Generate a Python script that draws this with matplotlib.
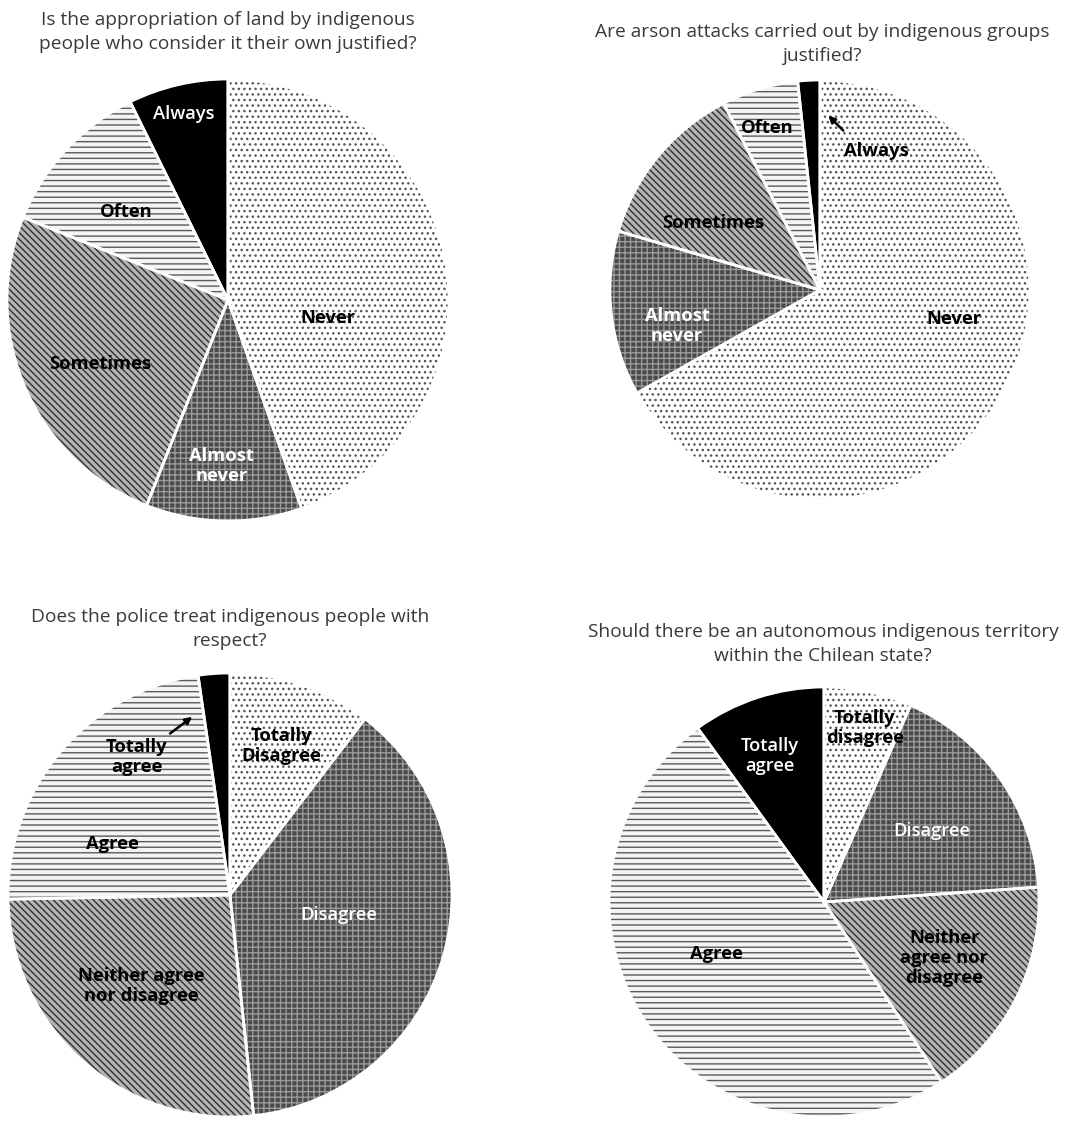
import matplotlib
matplotlib.use("Agg")
import matplotlib.pyplot as plt

plt.rcParams['font.family'] = ['Open Sans', 'DejaVu Sans']
plt.rcParams['hatch.linewidth'] = 1.0

# ---------------- data ----------------
titles = [
    "Is the appropriation of land by indigenous\npeople who consider it their own justified?",
    "Are arson attacks carried out by indigenous groups\njustified?",
    "Does the police treat indigenous people with\nrespect?",
    "Should there be an autonomous indigenous territory\nwithin the Chilean state?",
]

cats_freq = ["Never", "Almost\nnever", "Sometimes", "Often", "Always"]
land_values = [44.6, 11.4, 25.1, 11.6, 7.3]
arson_values = [66.9, 12.7, 12.9, 5.9, 1.7]

cats_police = ["Totally\nDisagree", "Disagree", "Neither agree\nnor disagree", "Agree", "Totally\nagree"]
police_values = [10.4, 37.9, 26.4, 23.0, 2.3]

cats_auto = ["Totally\ndisagree", "Disagree", "Neither\nagree nor\ndisagree", "Agree", "Totally\nagree"]
auto_values = [6.6, 17.3, 16.9, 49.2, 10.0]

# ---------------- styles ----------------
face_colors = ["white", "#4a4a4a", "#b4b4b4", "#f4f4f4", "black"]
hatch_colors = ["#555555", "#9a9a9a", "#303030", "#5a5a5a", "black"]
hatches = ["...", "+++", "\\\\\\\\\\", "---", ""]

W, H = 1065, 1131
fig = plt.figure(figsize=(W / 100, H / 100), dpi=100)

# pie geometry in pixels (centre x, centre y, radius)
geoms = [(228, 300, 221), (820, 290, 210), (230, 895, 222), (824, 902, 215)]
title_pos = [(228, 32), (822, 44), (230, 629), (823, 644)]


def make_axes(cx, cy, r):
    ax = fig.add_axes([(cx - r) / W, 1 - (cy + r) / H, 2 * r / W, 2 * r / H])
    ax.set_xlim(-1, 1)
    ax.set_ylim(-1, 1)
    ax.set_aspect('equal')
    ax.axis('off')
    return ax


def draw_pie(ax, values):
    ax.pie(values, startangle=90, counterclock=False, radius=1,
           colors=face_colors, wedgeprops=dict(linewidth=0))
    wedges, _ = ax.pie(values, startangle=90, counterclock=False, radius=1,
                       wedgeprops=dict(linewidth=0))
    for w, hc, h in zip(wedges, hatch_colors, hatches):
        w.set_facecolor('none')
        w.set_edgecolor(hc)
        w.set_hatch(h)
    ax.pie(values, startangle=90, counterclock=False, radius=1,
           wedgeprops=dict(facecolor='none', edgecolor='white', linewidth=2))
    ax.set_xlim(-1, 1)
    ax.set_ylim(-1, 1)


datasets = [land_values, arson_values, police_values, auto_values]
axes = []
for (cx, cy, r), vals in zip(geoms, datasets):
    ax = make_axes(cx, cy, r)
    draw_pie(ax, vals)
    axes.append(ax)

for (tx, ty), t in zip(title_pos, titles):
    fig.text(tx / W, 1 - ty / H, t, ha='center', va='center', fontsize=13.8,
             color='#3a3a3a', linespacing=1.4)

FS = 13.2
def lab(ax, x, y, s, color='black', weight='bold'):
    ax.text(x, y, s, ha='center', va='center', fontsize=FS, color=color,
            fontweight=weight, linespacing=1.15)

# pie 1
a = axes[0]
lab(a, -0.20, 0.84, cats_freq[4], color='white', weight='semibold')
lab(a, -0.46, 0.40, cats_freq[3])
lab(a, 0.45, -0.08, cats_freq[0])
lab(a, -0.58, -0.29, cats_freq[2])
lab(a, -0.03, -0.75, cats_freq[1], color='white')

# pie 2
a = axes[1]
lab(a, -0.25, 0.77, cats_freq[3])
lab(a, 0.27, 0.66, cats_freq[4])
a.annotate("", xy=(0.03, 0.84), xytext=(0.12, 0.75),
           arrowprops=dict(arrowstyle='-|>', color='black', lw=1.8, mutation_scale=10))
lab(a, -0.51, 0.32, cats_freq[2])
lab(a, -0.68, -0.17, cats_freq[1], color='white')
lab(a, 0.64, -0.14, cats_freq[0])

# pie 3
a = axes[2]
lab(a, -0.42, 0.62, cats_police[4])
a.annotate("", xy=(-0.16, 0.81), xytext=(-0.28, 0.72),
           arrowprops=dict(arrowstyle='-|>', color='black', lw=1.8, mutation_scale=10))
lab(a, 0.23, 0.67, cats_police[0])
lab(a, -0.53, 0.23, cats_police[3])
lab(a, 0.49, -0.09, cats_police[1], color='white', weight='semibold')
lab(a, -0.40, -0.41, cats_police[2])

# pie 4
a = axes[3]
lab(a, -0.25, 0.68, cats_auto[4], color='white', weight='semibold')
lab(a, 0.19, 0.81, cats_auto[0])
lab(a, 0.50, 0.33, cats_auto[1], color='white', weight='semibold')
lab(a, 0.56, -0.26, cats_auto[2])
lab(a, -0.50, -0.24, cats_auto[3])

fig.savefig("out.png", dpi=100, facecolor='white')
